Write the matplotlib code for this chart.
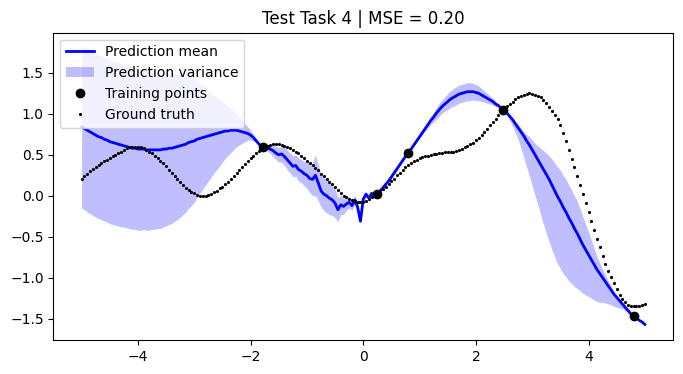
import numpy as np
import matplotlib
matplotlib.use("Agg")
import matplotlib.pyplot as plt

# test inputs, step 0.05 from -5 to 5
x_test = np.linspace(-5, 5, 201)

ground_truth = [
    0.21, 0.24, 0.27, 0.30, 0.33, 0.35, 0.38, 0.40, 0.42, 0.44,
    0.46, 0.48, 0.50, 0.52, 0.54, 0.56, 0.58, 0.59, 0.60, 0.60,
    0.60, 0.59, 0.58, 0.56, 0.54, 0.52, 0.49, 0.46, 0.43, 0.40,
    0.36, 0.32, 0.28, 0.24, 0.20, 0.17, 0.13, 0.10, 0.07, 0.05,
    0.03, 0.01, 0.00, 0.00, 0.00, 0.01, 0.02, 0.04, 0.06, 0.09,
    0.11, 0.14, 0.17, 0.21, 0.24, 0.28, 0.32, 0.35, 0.39, 0.42,
    0.46, 0.49, 0.52, 0.55, 0.58, 0.60, 0.61, 0.62, 0.63, 0.63,
    0.63, 0.62, 0.61, 0.60, 0.58, 0.56, 0.54, 0.52, 0.49, 0.46,
    0.43, 0.40, 0.37, 0.34, 0.31, 0.27, 0.24, 0.21, 0.17, 0.14,
    0.11, 0.07, 0.03, 0.00, -0.02, -0.04, -0.05, -0.06, -0.07, -0.08,
    -0.07, -0.06, -0.04, -0.02, 0.00, 0.02, 0.05, 0.08, 0.11, 0.14,
    0.18, 0.21, 0.25, 0.28, 0.32, 0.35, 0.38, 0.40, 0.42, 0.44,
    0.46, 0.47, 0.48, 0.49, 0.50, 0.51, 0.51, 0.52, 0.52, 0.53,
    0.53, 0.54, 0.54, 0.55, 0.56, 0.57, 0.59, 0.61, 0.63, 0.65,
    0.68, 0.71, 0.74, 0.78, 0.82, 0.86, 0.90, 0.94, 0.98, 1.02,
    1.05, 1.09, 1.12, 1.15, 1.18, 1.20, 1.22, 1.23, 1.24, 1.25,
    1.24, 1.23, 1.22, 1.20, 1.17, 1.13, 1.08, 1.03, 0.99, 0.94,
    0.86, 0.77, 0.67, 0.56, 0.45, 0.35, 0.24, 0.13, 0.02, -0.09,
    -0.20, -0.31, -0.42, -0.53, -0.63, -0.73, -0.83, -0.92, -0.99, -1.07,
    -1.14, -1.21, -1.26, -1.30, -1.33, -1.35, -1.35, -1.35, -1.34, -1.33,
    -1.32,
]

pred_mean = [
    0.84, 0.82, 0.80, 0.78, 0.76, 0.74, 0.72, 0.71, 0.69, 0.68,
    0.66, 0.65, 0.64, 0.63, 0.62, 0.61, 0.60, 0.59, 0.58, 0.58,
    0.57, 0.57, 0.57, 0.56, 0.56, 0.56, 0.56, 0.56, 0.56, 0.57,
    0.57, 0.58, 0.58, 0.59, 0.60, 0.61, 0.62, 0.63, 0.65, 0.66,
    0.67, 0.69, 0.70, 0.71, 0.72, 0.73, 0.74, 0.75, 0.76, 0.77,
    0.78, 0.79, 0.79, 0.80, 0.80, 0.80, 0.79, 0.78, 0.77, 0.76,
    0.74, 0.71, 0.67, 0.63, 0.60, 0.59, 0.58, 0.57, 0.55, 0.52,
    0.50, 0.51, 0.48, 0.44, 0.40, 0.36, 0.37, 0.32, 0.30, 0.27,
    0.25, 0.21, 0.20, 0.25, 0.16, 0.06, 0.02, 0.00, -0.03, -0.05,
    -0.09, -0.17, -0.11, -0.13, -0.10, -0.08, -0.12, -0.05, -0.14, -0.31,
    -0.04, 0.02, -0.03, 0.03, 0.00, 0.02, 0.06, 0.10, 0.14, 0.18,
    0.23, 0.28, 0.33, 0.38, 0.43, 0.48, 0.52, 0.57, 0.62, 0.67,
    0.72, 0.77, 0.82, 0.87, 0.92, 0.96, 1.01, 1.05, 1.09, 1.12,
    1.15, 1.18, 1.20, 1.22, 1.24, 1.25, 1.26, 1.27, 1.27, 1.27,
    1.26, 1.25, 1.23, 1.21, 1.19, 1.17, 1.15, 1.12, 1.10, 1.07,
    1.04, 1.01, 0.97, 0.93, 0.88, 0.83, 0.78, 0.73, 0.67, 0.62,
    0.56, 0.50, 0.44, 0.38, 0.32, 0.26, 0.20, 0.13, 0.06, -0.01,
    -0.07, -0.14, -0.20, -0.27, -0.33, -0.40, -0.46, -0.53, -0.60, -0.66,
    -0.72, -0.78, -0.84, -0.90, -0.95, -1.00, -1.05, -1.10, -1.15, -1.20,
    -1.24, -1.28, -1.32, -1.36, -1.40, -1.44, -1.47, -1.49, -1.52, -1.54,
    -1.57,
]

# distance from the mean to the lower / upper edge of the band
spread_lo = [
    0.99, 0.99, 1.00, 1.00, 1.00, 1.00, 1.00, 1.00, 1.00, 1.00,
    1.00, 1.00, 1.00, 1.00, 1.00, 0.99, 0.99, 0.99, 0.99, 0.99,
    0.99, 0.99, 0.98, 0.98, 0.98, 0.97, 0.97, 0.96, 0.96, 0.95,
    0.94, 0.93, 0.92, 0.90, 0.89, 0.87, 0.85, 0.83, 0.80, 0.78,
    0.75, 0.71, 0.67, 0.63, 0.59, 0.55, 0.51, 0.47, 0.44, 0.41,
    0.37, 0.33, 0.30, 0.27, 0.24, 0.20, 0.17, 0.14, 0.11, 0.08,
    0.06, 0.04, 0.02, 0.01, 0.00, 0.02, 0.04, 0.05, 0.07, 0.08,
    0.09, 0.10, 0.11, 0.12, 0.12, 0.13, 0.13, 0.14, 0.14, 0.15,
    0.16, 0.17, 0.20, 0.25, 0.22, 0.20, 0.20, 0.21, 0.20, 0.19,
    0.18, 0.15, 0.12, 0.10, 0.08, 0.07, 0.06, 0.05, 0.05, 0.04,
    0.04, 0.03, 0.02, 0.02, 0.01, 0.00, 0.01, 0.01, 0.02, 0.02,
    0.02, 0.02, 0.02, 0.01, 0.01, 0.00, 0.00, 0.00, 0.01, 0.01,
    0.02, 0.02, 0.03, 0.04, 0.05, 0.06, 0.07, 0.08, 0.08, 0.09,
    0.10, 0.10, 0.11, 0.11, 0.11, 0.11, 0.11, 0.11, 0.11, 0.10,
    0.10, 0.09, 0.08, 0.07, 0.06, 0.05, 0.04, 0.03, 0.02, 0.01,
    0.00, 0.02, 0.05, 0.08, 0.11, 0.14, 0.20, 0.26, 0.32, 0.38,
    0.44, 0.50, 0.55, 0.61, 0.67, 0.72, 0.76, 0.79, 0.81, 0.82,
    0.82, 0.81, 0.79, 0.77, 0.74, 0.71, 0.67, 0.63, 0.59, 0.55,
    0.51, 0.47, 0.43, 0.39, 0.35, 0.30, 0.26, 0.22, 0.18, 0.15,
    0.12, 0.09, 0.06, 0.04, 0.02, 0.01, 0.00, 0.00, 0.00, 0.00,
    0.00,
]

spread_hi = [
    0.99, 0.99, 1.00, 1.00, 1.00, 1.00, 1.00, 1.00, 1.00, 1.00,
    1.00, 1.00, 1.00, 1.00, 1.00, 0.99, 0.99, 0.99, 0.99, 0.99,
    0.99, 0.99, 0.98, 0.98, 0.98, 0.97, 0.97, 0.96, 0.96, 0.95,
    0.94, 0.93, 0.92, 0.90, 0.89, 0.87, 0.85, 0.83, 0.80, 0.78,
    0.75, 0.71, 0.67, 0.63, 0.59, 0.55, 0.51, 0.47, 0.44, 0.41,
    0.37, 0.33, 0.30, 0.27, 0.24, 0.20, 0.17, 0.14, 0.11, 0.08,
    0.06, 0.04, 0.02, 0.01, 0.00, 0.02, 0.04, 0.05, 0.07, 0.08,
    0.09, 0.10, 0.11, 0.12, 0.12, 0.13, 0.13, 0.14, 0.14, 0.15,
    0.16, 0.17, 0.20, 0.25, 0.22, 0.20, 0.20, 0.21, 0.20, 0.19,
    0.18, 0.15, 0.12, 0.10, 0.08, 0.07, 0.06, 0.05, 0.05, 0.04,
    0.04, 0.03, 0.02, 0.02, 0.01, 0.00, 0.01, 0.01, 0.02, 0.02,
    0.02, 0.02, 0.02, 0.01, 0.01, 0.00, 0.00, 0.00, 0.01, 0.01,
    0.02, 0.02, 0.03, 0.04, 0.05, 0.06, 0.07, 0.08, 0.08, 0.09,
    0.10, 0.10, 0.11, 0.11, 0.11, 0.11, 0.11, 0.11, 0.11, 0.10,
    0.10, 0.09, 0.08, 0.07, 0.06, 0.05, 0.04, 0.03, 0.02, 0.01,
    0.00, 0.00, 0.01, 0.02, 0.03, 0.04, 0.05, 0.06, 0.08, 0.10,
    0.12, 0.14, 0.17, 0.20, 0.23, 0.26, 0.29, 0.32, 0.34, 0.36,
    0.38, 0.39, 0.40, 0.40, 0.40, 0.40, 0.39, 0.37, 0.34, 0.31,
    0.28, 0.24, 0.20, 0.16, 0.13, 0.10, 0.08, 0.06, 0.05, 0.03,
    0.02, 0.02, 0.01, 0.01, 0.00, 0.00, 0.00, 0.00, 0.00, 0.00,
    0.00,
]

train_x = [-1.78, 0.24, 0.80, 2.49, 4.80]
train_y = [0.60, 0.02, 0.52, 1.05, -1.47]

mean = np.array(pred_mean)
lower = mean - np.array(spread_lo)
upper = mean + np.array(spread_hi)

fig = plt.figure(figsize=(6.83, 3.74), dpi=100)
ax = fig.add_subplot(111)
fig.subplots_adjust(left=0.0783, right=0.9854, bottom=0.0909, top=0.9126)

ax.plot(x_test, mean, "b-", lw=2, label="Prediction mean")
ax.fill_between(x_test, lower, upper, color="blue", alpha=0.25, lw=0, label="Prediction variance")
ax.plot(train_x, train_y, "ko", markersize=6, label="Training points")
ax.plot(x_test, ground_truth, "k.", markersize=2.5, label="Ground truth")

ax.set_ylim(-1.76, 1.99)
ax.set_title("Test Task 4 | MSE = 0.20")
ax.legend(loc="upper left")

fig.savefig("out.png", dpi=100)
